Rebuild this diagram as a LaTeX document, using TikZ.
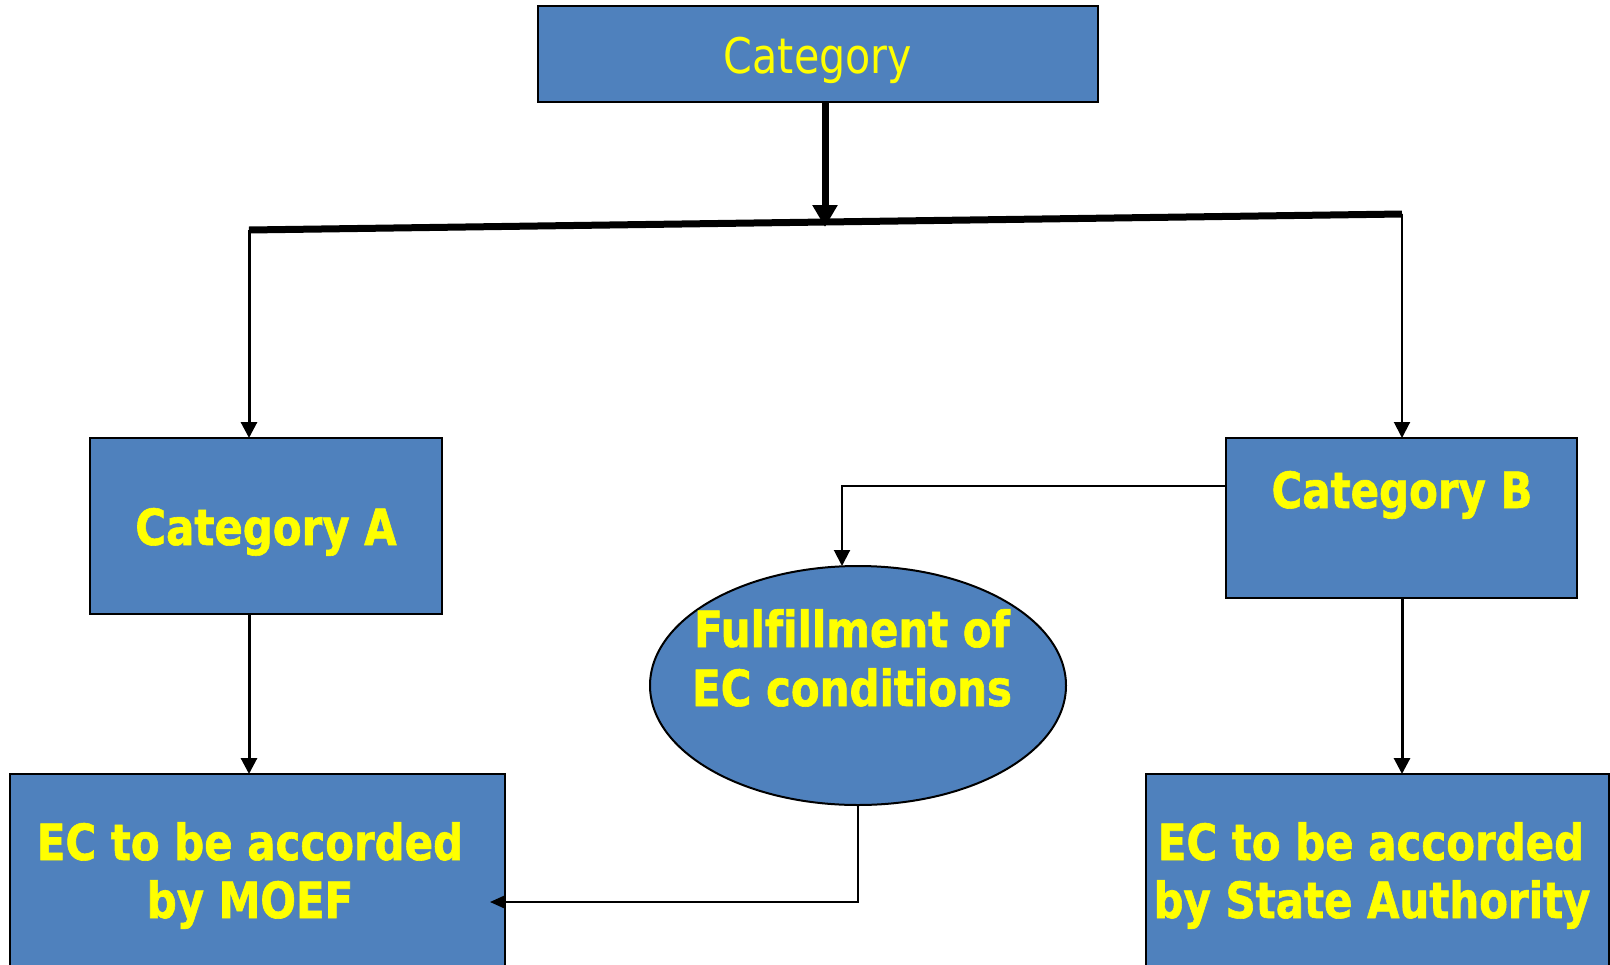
\documentclass[tikz,border=0pt]{standalone}
\usepackage{fontspec}
\setmainfont{DejaVu Sans}[FakeStretch=0.84, Ligatures=CommonOff, BoldFeatures={FakeBold=1.2}]
\usetikzlibrary{arrows.meta,shapes.geometric,calc}
\definecolor{boxblue}{HTML}{4F81BD}
\definecolor{labelyellow}{HTML}{FFFF00}
\newdimen\px \px=0.02cm

\tikzset{
  panel/.style={draw=black, line width=2\px, fill=boxblue, inner sep=0pt, outer sep=0pt},
  plainlabel/.style={text=labelyellow, anchor=base, inner sep=0pt,
    font=\fontsize{27.9}{33}\selectfont},
  boldlabel/.style={text=labelyellow, anchor=base, inner sep=0pt,
    font=\fontsize{28.4}{33}\selectfont\bfseries},
  tip/.style={-{Triangle[length=0.32cm, width=0.32cm]}},
  bigtip/.style={-{Triangle[length=0.44cm, width=0.48cm]}},
  backtip/.style={-{Triangle[length=0.3cm, width=0.26cm]}},
}

\begin{document}
\begin{tikzpicture}[x=0.02cm, y=-0.02cm]
  \useasboundingbox (0,0) rectangle (1610,964);
  \clip (0,0) rectangle (1610,964);

  % boxes
  \node[panel, minimum width=560\px, minimum height=96\px] (cat) at (818,54) {};
  \node[plainlabel] (catT) at (818,73) {Category};

  \node[panel, minimum width=352\px, minimum height=176\px] (catA) at (266,526) {};
  \node[boldlabel] (catAT) at (266,545) {Category A};

  \node[panel, minimum width=351\px, minimum height=160\px] (catB) at (1401.5,518) {};
  \node[boldlabel] (catBT) at (1402,508) {Category B};

  \node[panel, ellipse, minimum width=416\px, minimum height=239\px] (cond) at (858,685.5) {};
  \node[boldlabel] (condT1) at (852,647) {Fulfillment of};
  \node[boldlabel] (condT2) at (852,706) {EC conditions};

  \node[panel, anchor=north west, minimum width=495\px, minimum height=230\px] (moef) at (10,774) {};
  \node[boldlabel] (moefT1) at (250,860) {EC to be accorded};
  \node[boldlabel] (moefT2) at (250,918) {by MOEF};

  \node[panel, anchor=north west, minimum width=463\px, minimum height=230\px] (state) at (1146,774) {};
  \node[boldlabel] (stateT1) at (1371,860) {EC to be accorded};
  \node[boldlabel] (stateT2) at (1372,918) {by State Authority};

  % split bar under the top box
  \coordinate (sl) at (249,230);
  \coordinate (sr) at (1402,214);
  \coordinate (hit) at (825,227);
  \coordinate (drop) at ($(cat.south)+(7,0)$);
  \draw[line width=7\px] (sl) -- (sr);
  \draw[line width=7\px, bigtip] (drop) -- (hit);

  % branches
  \draw[line width=3\px, tip] (sl) -- (sl |- catA.north);
  \draw[line width=2\px, tip] (sr) -- (sr |- catB.north);
  \draw[line width=3\px, tip] (sl |- catA.south) -- (sl |- moef.north);
  \draw[line width=3\px, tip] (sr |- catB.south) -- (sr |- state.north);

  % Category B to the conditions, and back to MOEF
  \coordinate (bturn) at (842,486);
  \draw[line width=2\px, tip] (catB.west |- bturn) -- (bturn) -- (bturn |- cond.north);
  \coordinate (fturn) at (858,902);
  \draw[line width=2\px, backtip]
    (cond.south) -- (fturn) -- ($(moef.east |- fturn)+(-15,0)$);
\end{tikzpicture}
\end{document}
